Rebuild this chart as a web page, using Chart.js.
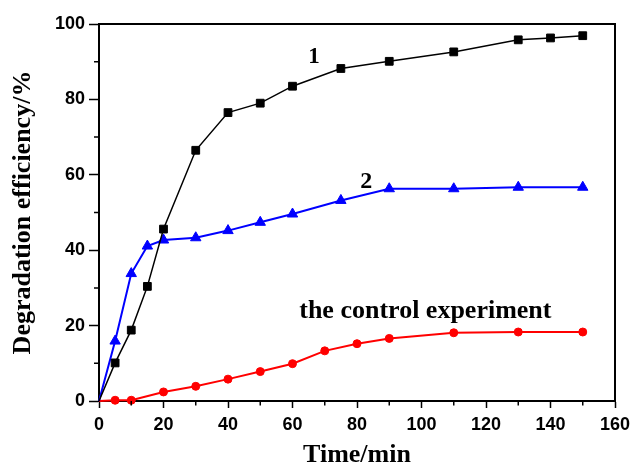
<!DOCTYPE html>
<html><head><meta charset="utf-8">
<script src="https://cdn.jsdelivr.net/npm/chart.js@4"></script>
<style>html,body{margin:0;padding:0;background:#fff}</style>
</head><body>
<canvas id="c" width="632" height="468"></canvas>
<script>
// data
const time1 = [0,5,10,15,20,30,40,50,60,75,90,110,130,140,150];
const eff1  = [0,10.1,18.8,30.4,45.6,66.5,76.5,79.0,83.5,88.2,90.1,92.6,95.8,96.3,96.9];
const time2 = [0,5,10,15,20,30,40,50,60,75,90,110,130,150];
const eff2  = [0,15.9,33.8,41.1,42.7,43.3,45.2,47.4,49.6,53.2,56.3,56.3,56.7,56.7];
const time3 = [0,5,10,20,30,40,50,60,70,80,90,110,130,150];
const eff3  = [0,0.2,0.2,2.4,3.9,5.8,7.8,9.9,13.3,15.2,16.6,18.1,18.3,18.3];
const seriesNames = ['1','2','the control experiment'];
const xMinorTicks = [10,30,50,70,90,110,130,150];
const yMinorTicks = [10,30,50,70,90];
const xTitle = 'Time/min';
const yTitle = 'Degradation efficiency/%';

// annotation anchors (data coordinates)
const annoX = [66.7, 82.9, 101.2];
const annoY = [89.6, 56.5, 21.9];

function pts(xs, ys){ return xs.map((x,i)=>({x:x,y:ys[i]})); }
const hideFirst = r => (ctx)=> ctx.dataIndex===0 ? 0 : r;

const annoPlugin = {
  id:'anno',
  afterDraw(chart){
    const {ctx, chartArea:a, scales:{x,y}} = chart;
    ctx.save();
    ctx.strokeStyle='#000'; ctx.lineWidth=2;
    ctx.beginPath();
    ctx.moveTo(a.left, a.top); ctx.lineTo(a.right, a.top); ctx.lineTo(a.right, a.bottom);
    ctx.stroke();
    ctx.lineWidth=1.5;
    ctx.beginPath();
    xMinorTicks.forEach(v=>{const px=x.getPixelForValue(v); ctx.moveTo(px,a.bottom); ctx.lineTo(px,a.bottom+4.5);});
    yMinorTicks.forEach(v=>{const py=y.getPixelForValue(v); ctx.moveTo(a.left,py); ctx.lineTo(a.left-5,py);});
    ctx.stroke();
    ctx.fillStyle='#000';
    ctx.textBaseline='alphabetic'; ctx.textAlign='center';
    const sizes=[23,24,26];
    seriesNames.forEach((t,i)=>{
      ctx.font='bold '+sizes[i]+'px "Liberation Serif"';
      ctx.fillText(t, x.getPixelForValue(annoX[i]), y.getPixelForValue(annoY[i]));
    });
    ctx.restore();
  }
};

new Chart(document.getElementById('c'), {
  type:'line',
  data:{datasets:[
    {data:pts(time1,eff1), borderColor:'#000', backgroundColor:'#000', borderWidth:1.5,
     pointStyle:'rect', pointRadius:hideFirst(5.5), pointBorderWidth:1},
    {data:pts(time2,eff2), borderColor:'#0000ff', backgroundColor:'#0000ff', borderWidth:2,
     pointStyle:'triangle', pointRadius:hideFirst(6), pointBorderWidth:1},
    {data:pts(time3,eff3), borderColor:'#ff0000', backgroundColor:'#ff0000', borderWidth:2,
     pointStyle:'circle', pointRadius:hideFirst(4), pointBorderWidth:1}
  ]},
  options:{
    responsive:false, animation:false, clip:false,
    layout:{padding:{left:0,right:0,top:24,bottom:0}},
    plugins:{legend:{display:false}, tooltip:{enabled:false}},
    scales:{
      x:{type:'linear', min:0, max:160,
         ticks:{stepSize:20, color:'#000', padding:6, font:{family:'"Liberation Sans"', weight:'bold', size:18}, maxRotation:0},
         grid:{drawOnChartArea:false, tickLength:7, tickWidth:1.5, tickColor:'#000'},
         border:{color:'#000', width:2},
         title:{display:true, text:xTitle, color:'#000', padding:{top:0,bottom:0}, font:{family:'"Liberation Serif"', weight:'bold', size:26, lineHeight:1}},
         afterFit(s){ s.height = 67; s.paddingRight = 17; s.paddingLeft = 0; }
      },
      y:{min:0, max:100,
         ticks:{stepSize:20, color:'#000', padding:4, font:{family:'"Liberation Sans"', weight:'bold', size:18}},
         grid:{drawOnChartArea:false, tickLength:10, tickWidth:1.5, tickColor:'#000'},
         border:{color:'#000', width:2},
         title:{display:true, text:yTitle, color:'#000', padding:{top:10,bottom:0}, font:{family:'"Liberation Serif"', weight:'bold', size:26, lineHeight:1}},
         afterFit(s){ s.width = 99; s.paddingTop = 0; s.paddingBottom = 0; }
      }
    }
  },
  plugins:[annoPlugin]
});
</script>
</body></html>
